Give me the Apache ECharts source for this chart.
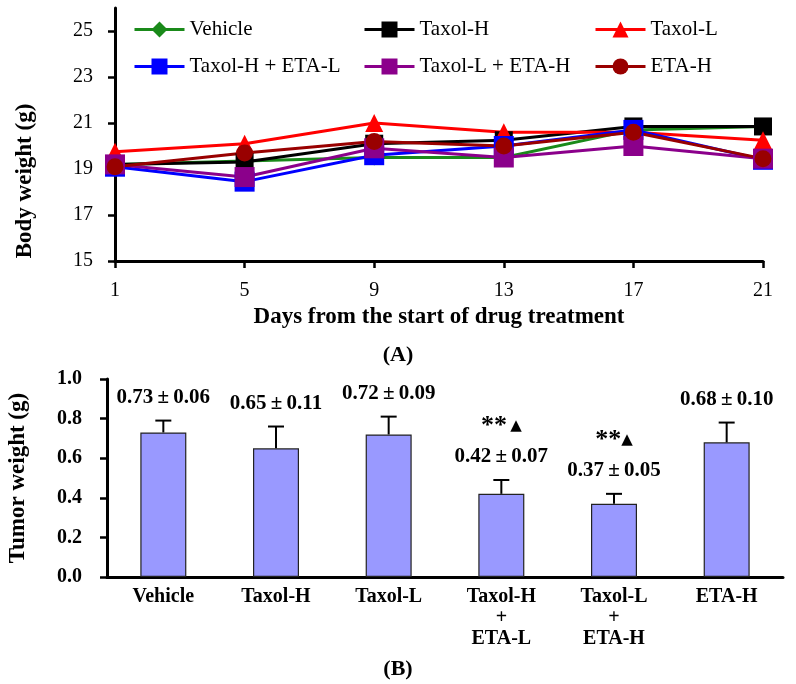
<!DOCTYPE html>
<html><head><meta charset="utf-8">
<script src="https://cdn.jsdelivr.net/npm/echarts@6/dist/echarts.min.js"></script>
<style>html,body{margin:0;padding:0;background:#fff}#c{width:796px;height:684px}</style>
</head><body><div id="c"></div>
<script>
// ---- Panel A: body weight ----
const days = ['1', '5', '9', '13', '17', '21'];
const vehicle     = [19.2, 19.35, 19.5, 19.5, 20.7, 20.85];
const taxolH      = [19.2, 19.3, 20.1, 20.25, 20.85, 20.85];
const taxolL      = [19.75, 20.1, 21.0, 20.6, 20.6, 20.25];
const taxolH_etaL = [19.1, 18.45, 19.6, 20.0, 20.7, 19.4];
const taxolL_etaH = [19.2, 18.65, 19.9, 19.5, 20.0, 19.45];
const etaH        = [19.1, 19.7, 20.2, 20.0, 20.6, 19.45];
const weightTicks = [15, 17, 19, 21, 23, 25];

// ---- Panel B: tumor weight ----
const groups = ['Vehicle', 'Taxol-H', 'Taxol-L', 'Taxol-H\n+\nETA-L', 'Taxol-L\n+\nETA-H', 'ETA-H'];
const tumorMean = [0.73, 0.65, 0.72, 0.42, 0.37, 0.68];
const tumorSD   = [0.06, 0.11, 0.09, 0.07, 0.05, 0.10];
const significance = ['', '', '', '** ▲', '**▲', ''];

const SERIF = '"Liberation Serif", "Times New Roman", serif';

const lineDefs = [
  { name: 'Vehicle', data: vehicle, color: '#1a8a1a', symbol: 'diamond', size: 16 },
  { name: 'Taxol-H', data: taxolH, color: '#000000', symbol: 'rect', size: 18 },
  { name: 'Taxol-L', data: taxolL, color: '#ff0000', symbol: 'triangle', size: 18 },
  { name: 'Taxol-H + ETA-L', data: taxolH_etaL, color: '#0000ff', symbol: 'rect', size: 20 },
  { name: 'Taxol-L + ETA-H', data: taxolL_etaH, color: '#8b008b', symbol: 'rect', size: 20 },
  { name: 'ETA-H', data: etaH, color: '#990000', symbol: 'circle', size: 17 }
];

const chart = echarts.init(document.getElementById('c'), null, { renderer: 'canvas' });

const legendCommon = {
  orient: 'vertical', top: 19, padding: 0, itemWidth: 50, itemHeight: 20, itemGap: 16,
  lineStyle: { width: 3 },
  textStyle: { fontFamily: SERIF, fontSize: 21, color: '#000' }, selectedMode: false
};

const option = {
  backgroundColor: '#fff',
  animation: false,
  title: [
    { text: '(A)', left: 'center', top: 339, textStyle: { fontFamily: SERIF, fontSize: 22, fontWeight: 'bold', color: '#000' } },
    { text: '(B)', left: 'center', top: 653, textStyle: { fontFamily: SERIF, fontSize: 22, fontWeight: 'bold', color: '#000' } }
  ],
  legend: [
    Object.assign({ left: 133, data: ['Vehicle', 'Taxol-H + ETA-L'] }, legendCommon),
    Object.assign({ left: 363, data: ['Taxol-H', 'Taxol-L + ETA-H'] }, legendCommon),
    Object.assign({ left: 594, data: ['Taxol-L', 'ETA-H'] }, legendCommon)
  ],
  graphic: [
    { type: 'text', x: 25, y: 181, rotation: Math.PI / 2,
      style: { text: 'Body weight (g)', font: 'bold 23px ' + SERIF, fill: '#000', align: 'center', verticalAlign: 'middle' } },
    { type: 'text', x: 18, y: 478, rotation: Math.PI / 2,
      style: { text: 'Tumor weight (g)', font: 'bold 23px ' + SERIF, fill: '#000', align: 'center', verticalAlign: 'middle' } }
  ],
  grid: [
    { left: 115, right: 33, top: 8, height: 253 },
    { left: 107, right: 13, top: 379, height: 198 }
  ],
  xAxis: [
    {
      gridIndex: 0, type: 'category', data: days, boundaryGap: false,
      axisLine: { lineStyle: { color: '#000', width: 3 } },
      axisTick: { show: true, length: 7, lineStyle: { color: '#000', width: 2.5 } },
      axisLabel: { margin: 20, fontFamily: SERIF, fontSize: 20, color: '#000' },
      name: 'Days from the start of drug treatment', nameLocation: 'middle', nameGap: 45,
      nameTextStyle: { fontFamily: SERIF, fontSize: 23, fontWeight: 'bold', color: '#000' }
    },
    {
      gridIndex: 1, type: 'category', data: groups,
      axisLine: { lineStyle: { color: '#000', width: 3 } },
      axisTick: { show: false },
      axisLabel: { margin: 9, fontFamily: SERIF, fontSize: 20, fontWeight: 'bold', color: '#000', lineHeight: 21, interval: 0 }
    }
  ],
  yAxis: [
    {
      gridIndex: 0, type: 'value', min: 15, max: 26,
      axisLine: { show: true, lineStyle: { color: '#000', width: 3 } },
      axisTick: { show: true, length: 7, customValues: weightTicks, lineStyle: { color: '#000', width: 2.5 } },
      axisLabel: { margin: 22, customValues: weightTicks, fontFamily: SERIF, fontSize: 20, color: '#000' },
      splitLine: { show: false }
    },
    {
      gridIndex: 1, type: 'value', min: 0, max: 1, interval: 0.2,
      axisLine: { show: true, lineStyle: { color: '#000', width: 3 } },
      axisTick: { show: true, length: 7, lineStyle: { color: '#000', width: 2.5 } },
      axisLabel: { margin: 25, fontFamily: SERIF, fontSize: 20, fontWeight: 'bold', color: '#000',
        formatter: v => v.toFixed(1) },
      splitLine: { show: false }
    }
  ],
  series: lineDefs.map(d => ({
    type: 'line', name: d.name, data: d.data, xAxisIndex: 0, yAxisIndex: 0,
    symbol: d.symbol, symbolSize: d.size, showAllSymbol: true,
    lineStyle: { color: d.color, width: 3 },
    itemStyle: { color: d.color, opacity: 1 },
    emphasis: { disabled: true }
  })).concat([
    {
      type: 'bar', name: 'Tumor weight', data: tumorMean, xAxisIndex: 1, yAxisIndex: 1,
      barWidth: 46,
      itemStyle: { color: '#9999ff', borderColor: '#222', borderWidth: 1.2 },
      emphasis: { disabled: true }
    },
    {
      type: 'custom', name: 'err', xAxisIndex: 1, yAxisIndex: 1, z: 5,
      data: tumorMean.map((m, i) => [i, m, tumorSD[i]]),
      encode: { x: 0, y: 1 },
      renderItem: function (params, api) {
        const i = api.value(0), m = api.value(1), sd = api.value(2);
        const pm = api.coord([i, m]);
        const pt = api.coord([i, m + sd]);
        const idx = params.dataIndex;
        const children = [
          { type: 'line', shape: { x1: pm[0], y1: pm[1], x2: pt[0], y2: pt[1] }, style: { stroke: '#000', lineWidth: 2 } },
          { type: 'line', shape: { x1: pt[0] - 8, y1: pt[1], x2: pt[0] + 8, y2: pt[1] }, style: { stroke: '#000', lineWidth: 2 } },
          { type: 'text', style: { text: tumorMean[idx].toFixed(2) + '\u2009±\u2009' + tumorSD[idx].toFixed(2),
              x: pt[0], y: pt[1] - 23, align: 'center', verticalAlign: 'middle',
              font: 'bold 21px ' + SERIF, fill: '#000' } }
        ];
        const sig = significance[idx];
        if (sig) {
          children.push({ type: 'text', style: {
            text: sig.replace('**', '{a|**}').replace('▲', '{b|▲}'),
            x: pt[0], y: pt[1] - 54, align: 'center', verticalAlign: 'middle',
            rich: { a: { font: 'bold 26px ' + SERIF, fill: '#000' }, b: { font: '15px "DejaVu Sans"', fill: '#000' } },
            fill: '#000' } });
        }
        return { type: 'group', children: children };
      }
    }
  ])
};
chart.setOption(option);
</script>
</body></html>
